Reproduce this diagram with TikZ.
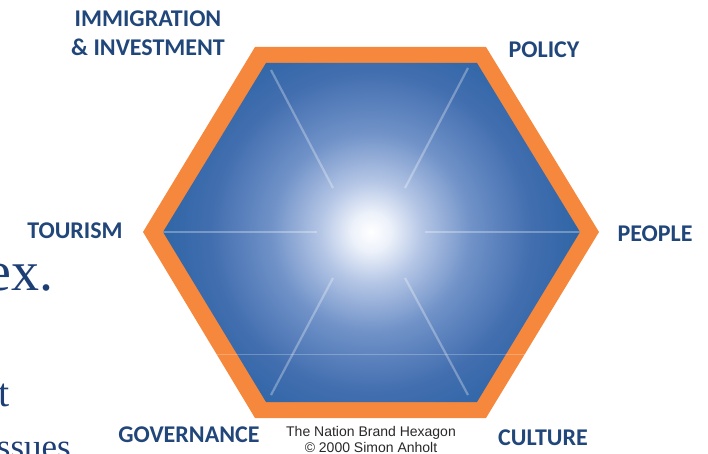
\documentclass[tikz,border=0pt]{standalone}
\usepackage{fontspec}
\setmainfont{Liberation Serif}
\newfontfamily\labelfont{Carlito}
\newfontfamily\captionfont{Liberation Sans}

\definecolor{hexorange}{RGB}{245,136,60}
\definecolor{labelblue}{RGB}{33,70,122}
\definecolor{slideblue}{RGB}{30,62,118}
\definecolor{captiongray}{RGB}{40,40,40}
% colour stops of the glow inside the hexagon
\definecolor{glowA}{RGB}{236,241,250}
\definecolor{glowB}{RGB}{182,199,230}
\definecolor{glowC}{RGB}{112,146,200}
\definecolor{glowD}{RGB}{66,110,175}
\definecolor{glowE}{RGB}{34,96,161}
\definecolor{glowF}{RGB}{18,89,154}

\pgfdeclareradialshading{hexglow}{\pgfpoint{0bp}{0bp}}{%
  color(0bp)=(white);
  color(1.9bp)=(glowA);
  color(4.8bp)=(glowB);
  color(9.6bp)=(glowC);
  color(15.4bp)=(glowD);
  color(23.1bp)=(glowE);
  color(32.7bp)=(glowF);
  color(50bp)=(glowF)}

\begin{document}
\begin{tikzpicture}[x=1pt,y=-1pt,
  hexlabel/.style={font=\labelfont\bfseries\fontsize{24}{29}\selectfont,
    text=labelblue, inner sep=0pt, align=center},
  slidetext/.style={font=\fontsize{56}{60}\selectfont, text=slideblue,
    inner sep=0pt, anchor=base east},
  spoke/.style={draw=white, draw opacity=0.3, line width=2.2pt},
  seam/.style={draw=white, draw opacity=0.25, line width=1pt},
  captiontext/.style={font=\captionfont\fontsize{14}{14}\selectfont,
    text=captiongray, inner sep=0pt}]
\useasboundingbox (0,0) rectangle (708,454);

% fragments of the slide text lying behind the figure
\node[slidetext] (exword) at (54,290) {ex.};
\node[slidetext, font=\fontsize{40}{44}\selectfont] (tword) at (10,406) {t};
\node[slidetext, font=\fontsize{35}{40}\selectfont] (issuesword) at (71,458) {ssues};

% hexagon corners
\coordinate (O1) at (255,47);  \coordinate (O2) at (486,47);
\coordinate (O3) at (599,232); \coordinate (O4) at (486,418);
\coordinate (O5) at (255,418); \coordinate (O6) at (143,232);
\coordinate (I1) at (266,63);  \coordinate (I2) at (477,63);
\coordinate (I3) at (580,232); \coordinate (I4) at (477,402);
\coordinate (I5) at (266,402); \coordinate (I6) at (163,232);

% orange frame
\fill[hexorange] (O1) -- (O2) -- (O3) -- (O4) -- (O5) -- (O6) -- cycle;

% glowing blue face
\begin{scope}
  \clip (I1) -- (I2) -- (I3) -- (I4) -- (I5) -- (I6) -- cycle;
  \shade[shading=hexglow] (111,-28) rectangle (631,492);
  % faint spokes
  \draw[spoke] (317,232) -- (163,232);
  \draw[spoke] (425,232) -- (580,232);
  \draw[spoke] (333,188) -- (271,70);
  \draw[spoke] (405,188) -- (468,68);
  \draw[spoke] (333,278) -- (271,395);
  \draw[spoke] (405,278) -- (468,395);
\end{scope}

% faint horizontal seam across the whole hexagon
\begin{scope}
  \clip (O1) -- (O2) -- (O3) -- (O4) -- (O5) -- (O6) -- cycle;
  \draw[seam] (140,354) -- (600,354);
\end{scope}

% labels round the hexagon
\node[hexlabel] (immigration) at (148,33) {IMMIGRATION\\\& INVESTMENT};
\node[hexlabel] (policy) at (544,50) {POLICY};
\node[hexlabel] (people) at (655,234) {PEOPLE};
\node[hexlabel] (tourism) at (75,231) {TOURISM};
\node[hexlabel] (governance) at (189,435) {GOVERNANCE};
\node[hexlabel] (culture) at (543,438) {CULTURE};

% caption
\node[captiontext] (caption1) at (371,433) {The Nation Brand Hexagon};
\node[captiontext] (caption2) at (371,447) {\textcopyright{} 2000 Simon Anholt};
\end{tikzpicture}
\end{document}
